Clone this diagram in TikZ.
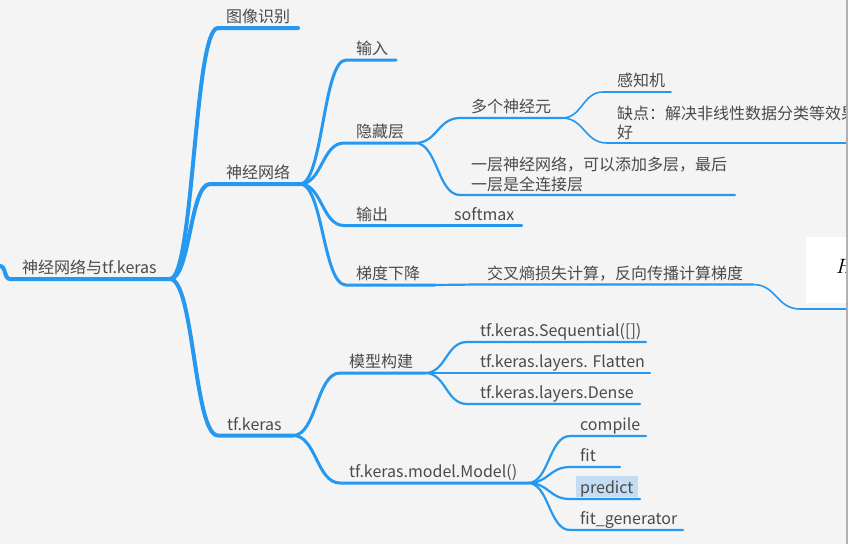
\documentclass[tikz,border=0pt]{standalone}
\usepackage{fontspec}
\setmainfont{Noto Sans CJK SC}
\usetikzlibrary{calc}
\definecolor{mapblue}{RGB}{38,152,240}
\definecolor{mapbg}{RGB}{243,244,243}
\definecolor{maptext}{RGB}{74,74,74}
\definecolor{selblue}{RGB}{197,220,245}
\tikzset{
  topic/.style={anchor=base west, inner sep=0pt, text=maptext, font=\fontsize{16}{20}\selectfont},
  lvA/.style={draw=mapblue, line width=4pt, line cap=round},
  lvB/.style={draw=mapblue, line width=3pt, line cap=round},
  lvC/.style={draw=mapblue, line width=2.2pt, line cap=round},
  lvD/.style={draw=mapblue, line width=1.6pt, line cap=round},
}

\begin{document}
\begin{tikzpicture}[x=1pt, y=-1pt]
    \clip (0,0) rectangle (849,544);
    \fill[mapbg] (0,0) rectangle (849,544);

    % underline ends of every topic
    \coordinate (in0) at (0,266);
    \coordinate (root-s) at (10,279);   \coordinate (root-e) at (170,279);
    \coordinate (img-s) at (218,28);    \coordinate (img-e) at (298,28);
    \coordinate (nn-s) at (210,184);    \coordinate (nn-e) at (300,184);
    \coordinate (tfk-s) at (218,435.5); \coordinate (tfk-e) at (293,435.5);
    \coordinate (inp-s) at (346,60);    \coordinate (inp-e) at (396,60);
    \coordinate (hid-s) at (344,143);   \coordinate (hid-e) at (415,143);
    \coordinate (out-s) at (344,225.5); \coordinate (out-e) at (440,225.5);
    \coordinate (sm-s) at (440,225.5);  \coordinate (sm-e) at (522,225.5);
    \coordinate (gd-s) at (346,285);    \coordinate (gd-e) at (435,285);
    \coordinate (ce-s) at (477,284.5);  \coordinate (ce-e) at (753,284.5);
    \coordinate (hx-s) at (800,309);    \coordinate (hx-e) at (849,309);
    \coordinate (mn-s) at (460,118);    \coordinate (mn-e) at (562,118);
    \coordinate (l1-s) at (460,195);    \coordinate (l1-e) at (735,195);
    \coordinate (pc-s) at (603,92);     \coordinate (pc-e) at (671,92);
    \coordinate (qd-s) at (607,143);    \coordinate (qd-e) at (849,143);
    \coordinate (mb-s) at (340,373);    \coordinate (mb-e) at (425,373);
    \coordinate (md-s) at (340,483);    \coordinate (md-e) at (528,483);
    \coordinate (seq-s) at (467,342);   \coordinate (seq-e) at (646,342);
    \coordinate (flat-s) at (467,373);  \coordinate (flat-e) at (650,373);
    \coordinate (dense-s) at (467,404); \coordinate (dense-e) at (640,404);
    \coordinate (cp-s) at (570,436);    \coordinate (cp-e) at (646,436);
    \coordinate (fit-s) at (570,467);   \coordinate (fit-e) at (620,467);
    \coordinate (pr-s) at (570,499);    \coordinate (pr-e) at (640,499);
    \coordinate (fg-s) at (570,530);    \coordinate (fg-e) at (683,530);

    % formula picture at the right edge
    \fill[white] (806,237) rectangle (849,303);
    \node[anchor=base west, inner sep=0pt, font=\fontsize{22}{26}\selectfont] (hpic) at (836,273) {$H$};

    % selected topic
    \fill[selblue] (576,476) rectangle (638,497);

    % branches
    \draw[lvA] (in0) .. controls +(6,0) and +(-6,0) .. (root-s) -- (root-e);
    \foreach \pa/\ch/\lw in {root/img/lvA, root/nn/lvA, root/tfk/lvA,
        nn/inp/lvB, nn/hid/lvB, nn/out/lvB, nn/gd/lvB,
        out/sm/lvC, gd/ce/lvC, ce/hx/lvD,
        hid/mn/lvC, hid/l1/lvC, mn/pc/lvD, mn/qd/lvD,
        tfk/mb/lvB, tfk/md/lvB,
        mb/seq/lvC, mb/flat/lvC, mb/dense/lvC,
        md/cp/lvC, md/fit/lvC, md/pr/lvC, md/fg/lvC} {
        \draw[\lw] let \p1=(\pa-e), \p2=(\ch-s), \n1={(\x2-\x1)/2} in
            (\p1) .. controls +(\n1,0) and +(-\n1,0) .. (\p2) -- (\ch-e);
    }

    % labels
    \node[topic] (root) at (22,273.5) {神经网络与tf.keras};
    \node[topic] (img) at (226,22.5) {图像识别};
    \node[topic] (nn) at (226,178.5) {神经网络};
    \node[topic] (tfk) at (227,430) {tf.keras};
    \node[topic] (inp) at (356,54.5) {输入};
    \node[topic] (hid) at (356,137.5) {隐藏层};
    \node[topic] (out) at (356,220) {输出};
    \node[topic] (sm) at (454,220.5) {softmax};
    \node[topic] (gd) at (356,279.5) {梯度下降};
    \node[topic] (ce) at (487,279) {交叉熵损失计算，反向传播计算梯度};
    \node[topic] (mn) at (471,112.5) {多个神经元};
    \node[topic, align=left, anchor=south west] (l1) at (471,192) {一层神经网络，可以添加多层，最后\\一层是全连接层};
    \node[topic] (pc) at (617,86.5) {感知机};
    \node[topic, align=left, anchor=south west, font=\fontsize{16}{19}\selectfont] (qd) at (617,140) {缺点：解决非线性数据分类等效果\\好};
    \node[topic] (mb) at (349,367.5) {模型构建};
    \node[topic] (md) at (349,477.5) {tf.keras.model.Model()};
    \node[topic] (seq) at (480,336.5) {tf.keras.Sequential([])};
    \node[topic] (flat) at (480,367.5) {tf.keras.layers. Flatten};
    \node[topic] (dense) at (480,398.5) {tf.keras.layers.Dense};
    \node[topic] (cp) at (580,430.5) {compile};
    \node[topic] (fit) at (580,461.5) {fit};
    \node[topic] (pr) at (580,493.5) {predict};
    \node[topic] (fg) at (580,524.5) {fit\_generator};

    % window border
    \fill[white] (847.5,0) rectangle (849,544);
    \draw[gray!60, line width=1.2pt] (847,0) -- (847,544);
\end{tikzpicture}
\end{document}
